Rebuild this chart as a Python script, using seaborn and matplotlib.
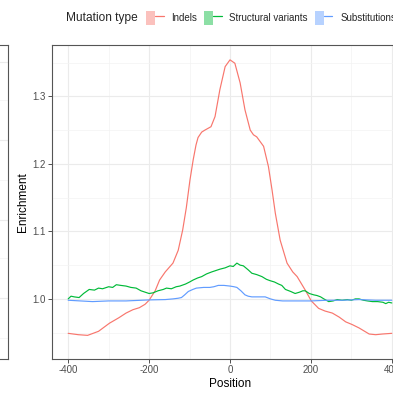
import matplotlib
matplotlib.use("Agg")
import matplotlib.pyplot as plt
from matplotlib.patches import Patch
from matplotlib.lines import Line2D
from matplotlib.legend_handler import HandlerTuple
import seaborn as sns
import pandas as pd

# ---------------- data ----------------
series_names = ["Indels", "Structural variants", "Substitutions"]
series_colors = ["#F8766D", "#00BA38", "#619CFF"]

indel_pos = [-400, -375, -352, -325, -298, -275, -257, -240, -224, -210, -200, -185,
             -174, -160, -141, -128, -117, -108, -99, -91, -84, -79, -70, -62, -47, -37,
             -25, -12, 0, 12, 25, 37, 50, 58, 66, 83, 95, 104, 112, 124, 141, 155,
             166, 186, 201, 219, 235, 253, 270, 286, 302, 319, 344, 360, 377, 400]
indel_val = [0.949, 0.947, 0.946, 0.952, 0.964, 0.972, 0.979, 0.984, 0.987, 0.992,
             0.998, 1.012, 1.028, 1.040, 1.053, 1.072, 1.102, 1.135, 1.176, 1.206,
             1.228, 1.239, 1.247, 1.250, 1.255, 1.270, 1.310, 1.344, 1.354, 1.349, 1.320,
             1.280, 1.250, 1.243, 1.240, 1.226, 1.196, 1.161, 1.127, 1.087, 1.053,
             1.040, 1.033, 1.013, 0.997, 0.986, 0.982, 0.979, 0.973, 0.966, 0.962,
             0.957, 0.948, 0.947, 0.948, 0.949]

sv_pos = [-400, -393, -385, -373, -362, -348, -335, -325, -315, -300, -290, -281,
          -270, -257, -245, -232, -220, -210, -200, -190, -178, -165, -157, -145,
          -133, -124, -110, -100, -91, -80, -70, -58, -45, -35, -25, -12, 0, 8, 17,
          25, 33, 45, 54, 66, 79, 90, 99, 110, 120, 128, 137, 150, 161, 172, 180,
          186, 196, 207, 215, 224, 232, 244, 255, 265, 277, 290, 300, 310, 319, 330,
          340, 352, 365, 378, 385, 392, 400]
sv_val = [1.000, 1.004, 1.003, 1.002, 1.008, 1.014, 1.013, 1.016, 1.015, 1.018,
          1.017, 1.021, 1.020, 1.019, 1.017, 1.016, 1.012, 1.010, 1.008, 1.009,
          1.012, 1.014, 1.016, 1.015, 1.018, 1.019, 1.022, 1.025, 1.028, 1.031,
          1.033, 1.037, 1.040, 1.042, 1.044, 1.046, 1.049, 1.048, 1.053, 1.050,
          1.049, 1.043, 1.038, 1.036, 1.033, 1.029, 1.027, 1.025, 1.022, 1.020,
          1.014, 1.011, 1.008, 1.010, 1.012, 1.012, 1.008, 1.006, 1.005, 1.003,
          1.000, 0.996, 0.997, 0.999, 0.998, 0.999, 0.998, 1.000, 1.000, 0.998,
          0.997, 0.996, 0.996, 0.995, 0.993, 0.995, 0.994]

sub_pos = [-400, -370, -340, -300, -257, -200, -160, -141, -128, -120, -112, -103,
           -92, -83, -65, -50, -40, -29, -15, 0, 10, 17, 27, 37, 45, 54, 70, 87,
           100, 112, 130, 161, 201, 240, 277, 319, 360, 400]
sub_val = [0.998, 0.997, 0.996, 0.997, 0.997, 0.9985, 0.999, 1.000, 1.001, 1.002,
           1.006, 1.011, 1.014, 1.016, 1.017, 1.017, 1.018, 1.020, 1.020, 1.019,
           1.018, 1.017, 1.012, 1.006, 1.004, 1.003, 1.003, 1.003, 1.000, 0.998,
           0.997, 0.997, 0.997, 0.998, 0.998, 0.999, 0.998, 0.998]

x_major = [-400, -200, 0, 200, 400]
x_minor = [-300, -100, 100, 300]
y_major = [1.0, 1.1, 1.2, 1.3]
y_minor = [0.95, 1.05, 1.15, 1.25, 1.35]

frames = []
for name, p, v in [(series_names[0], indel_pos, indel_val),
                   (series_names[1], sv_pos, sv_val),
                   (series_names[2], sub_pos, sub_val)]:
    frames.append(pd.DataFrame({"Position": p, "Enrichment": v, "Mutation type": name}))
df = pd.concat(frames, ignore_index=True)

# ---------------- styling ----------------
sns.set_style("white")
plt.rcParams["font.family"] = ["Liberation Sans", "DejaVu Sans"]

W = H = 393
fig = plt.figure(figsize=(W / 100, H / 100), dpi=100)
fig.patch.set_facecolor("white")

def px_rect(l, t, r, b):
    return [l / W, (H - b) / H, (r - l) / W, (b - t) / H]

grid_major = dict(color="#EBEBEB", linewidth=0.8)
grid_minor = dict(color="#F3F3F3", linewidth=0.5)
border_col = "#555555"

# partially visible left panel
axl = fig.add_axes(px_rect(-300, 45, 8, 359))
axl.set_xlim(0, 1)
axl.set_ylim(359, 45)
axl.set_yticks([62, 140, 220, 298])
axl.set_yticks([100, 180, 258, 338], minor=True)
axl.set_xticks([])
axl.tick_params(left=False, labelleft=False, which="both")
axl.grid(True, axis="y", which="major", **grid_major)
axl.grid(True, axis="y", which="minor", **grid_minor)
for s in axl.spines.values():
    s.set_color(border_col)
    s.set_linewidth(0.8)

# main panel
ax = fig.add_axes(px_rect(52, 45, 408, 359))
sns.lineplot(data=df, x="Position", y="Enrichment", hue="Mutation type",
             hue_order=series_names, palette=series_colors, linewidth=0.85,
             ax=ax, legend=False, sort=True, estimator=None)
ax.set_xlim(-440, 440)
ax.set_ylim(0.911, 1.376)
ax.set_xticks(x_major)
ax.set_xticks(x_minor, minor=True)
ax.set_yticks(y_major)
ax.set_yticks(y_minor, minor=True)
ax.set_xticklabels([str(v) for v in x_major])
ax.set_yticklabels([f"{v:.1f}" for v in y_major])
ax.set_axisbelow(True)
ax.grid(True, which="major", **grid_major)
ax.grid(True, which="minor", **grid_minor)
ax.tick_params(which="major", length=3, width=0.6, color="#333333",
               labelsize=7, labelcolor="#4D4D4D", pad=1.5, bottom=True, left=True)
ax.tick_params(which="minor", length=0)
for s in ax.spines.values():
    s.set_color(border_col)
    s.set_linewidth(0.8)
ax.set_xlabel("Position", fontsize=8.5, color="black", labelpad=2)
ax.set_ylabel("Enrichment", fontsize=8.5, color="black", labelpad=2.5)

# legend at top
fig.text(66 / W, 1 - 18 / H, "Mutation type", fontsize=8.6, ha="left", va="center")
handles = []
for c in series_colors:
    handles.append((Patch(facecolor=c, alpha=0.45, edgecolor="none"),
                    Line2D([], [], color=c, linewidth=0.9)))
fig.legend(handles, series_names, handler_map={tuple: HandlerTuple(ndivide=None)},
           loc="center left", bbox_to_anchor=(146 / W, 1 - 18 / H), ncol=3,
           frameon=False, fontsize=7.0, handlelength=1.8, handleheight=1.8,
           handletextpad=0.8, columnspacing=0.72, borderpad=0, borderaxespad=0)

fig.savefig("out.png", dpi=100, facecolor="white")
